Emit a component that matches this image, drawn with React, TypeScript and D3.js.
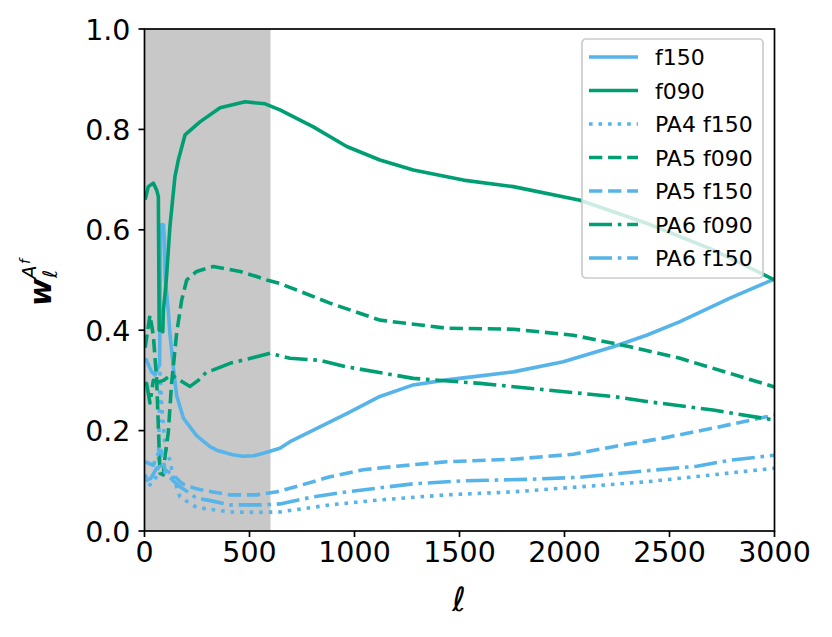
import * as d3 from 'd3'
import React from 'react'

const W = 832
const H = 637
const margin = { top: 29, right: 58, bottom: 106, left: 144.5 }
const innerW = 774.5 - margin.left
const innerH = 531 - margin.top

const blue = '#56B4E9'
const green = '#009E73'

// multipole values and weights
const f150Ell = [5, 34, 50, 66, 72, 77, 90, 95, 98, 113, 121, 137, 153, 185, 248, 312, 344, 420, 470, 520, 566, 645, 693, 804, 963, 1121, 1280, 1439, 1600, 1756, 1994, 2232, 2391, 2550, 2788, 3000]
const f150W = [0.344, 0.317, 0.311, 0.327, 0.33, 0.61, 0.61, 0.58, 0.507, 0.44, 0.394, 0.327, 0.27, 0.225, 0.19, 0.168, 0.161, 0.152, 0.149, 0.15, 0.155, 0.165, 0.178, 0.201, 0.234, 0.268, 0.291, 0.301, 0.309, 0.317, 0.337, 0.367, 0.39, 0.417, 0.464, 0.502]

const f090Ell = [3, 18, 42, 58, 66, 70, 80, 87, 90, 98, 105, 121, 145, 161, 193, 264, 360, 479, 574, 645, 804, 963, 1121, 1280, 1518, 1756, 2074, 2391, 2708, 3000]
const f090W = [0.66, 0.686, 0.693, 0.679, 0.666, 0.4, 0.4, 0.397, 0.44, 0.473, 0.507, 0.606, 0.706, 0.739, 0.789, 0.815, 0.843, 0.855, 0.851, 0.839, 0.805, 0.766, 0.739, 0.719, 0.699, 0.686, 0.659, 0.613, 0.56, 0.5]

const pa4f150Ell = [3, 26, 50, 66, 74, 82, 98, 121, 137, 169, 217, 248, 407, 534, 645, 883, 1121, 1439, 1756, 2074, 2391, 2708, 3000]
const pa4f150W = [0.112, 0.092, 0.1, 0.13, 0.314, 0.25, 0.168, 0.141, 0.108, 0.068, 0.055, 0.047, 0.038, 0.037, 0.038, 0.052, 0.062, 0.072, 0.078, 0.088, 0.098, 0.112, 0.125]

const pa5f090Ell = [3, 26, 42, 58, 74, 90, 98, 113, 129, 153, 177, 201, 248, 296, 328, 455, 534, 582, 645, 883, 1121, 1439, 1756, 2042, 2312, 2550, 2788, 3000]
const pa5f090W = [0.365, 0.43, 0.39, 0.3, 0.115, 0.112, 0.15, 0.195, 0.294, 0.394, 0.46, 0.5, 0.517, 0.523, 0.527, 0.517, 0.507, 0.5, 0.493, 0.454, 0.42, 0.404, 0.402, 0.39, 0.367, 0.344, 0.314, 0.287]

const pa5f150Ell = [3, 42, 66, 80, 98, 137, 169, 185, 248, 296, 407, 534, 630, 693, 883, 1042, 1201, 1439, 1756, 2042, 2232, 2470, 2708, 3000]
const pa5f150W = [0.138, 0.131, 0.155, 0.16, 0.122, 0.112, 0.098, 0.093, 0.084, 0.08, 0.072, 0.072, 0.078, 0.085, 0.108, 0.122, 0.129, 0.138, 0.143, 0.153, 0.168, 0.185, 0.205, 0.231]

const pa6f090Ell = [3, 10, 26, 42, 66, 90, 129, 169, 217, 256, 296, 328, 407, 534, 598, 693, 836, 963, 1280, 1598, 1915, 2232, 2391, 2708, 3000]
const pa6f090W = [0.29, 0.294, 0.255, 0.3, 0.297, 0.3, 0.311, 0.3, 0.288, 0.3, 0.317, 0.321, 0.334, 0.347, 0.354, 0.344, 0.34, 0.327, 0.304, 0.294, 0.281, 0.268, 0.258, 0.241, 0.221]

const pa6f150Ell = [3, 30, 58, 80, 100, 137, 169, 217, 248, 296, 407, 566, 645, 804, 963, 1121, 1280, 1518, 1836, 2074, 2391, 2630, 2788, 3000]
const pa6f150W = [0.1, 0.105, 0.125, 0.13, 0.115, 0.1, 0.088, 0.075, 0.065, 0.062, 0.052, 0.052, 0.054, 0.068, 0.078, 0.086, 0.094, 0.1, 0.103, 0.107, 0.12, 0.129, 0.141, 0.151]

const xTicks = [0, 500, 1000, 1500, 2000, 2500, 3000]
const yTicks = [0, 0.2, 0.4, 0.6, 0.8, 1.0]
const maskEnd = 600

const lw = 3.6
const dashes: any = {
    solid: null,
    dotted: `${1 * lw},${1.65 * lw}`,
    dashed: `${3.7 * lw},${1.6 * lw}`,
    dashdot: `${6.4 * lw},${1.6 * lw},${1 * lw},${1.6 * lw}`,
}

const series = [
    { label: 'f150', ell: f150Ell, w: f150W, color: blue, dash: 'solid' },
    { label: 'f090', ell: f090Ell, w: f090W, color: green, dash: 'solid' },
    { label: 'PA4 f150', ell: pa4f150Ell, w: pa4f150W, color: blue, dash: 'dotted' },
    { label: 'PA5 f090', ell: pa5f090Ell, w: pa5f090W, color: green, dash: 'dashed' },
    { label: 'PA5 f150', ell: pa5f150Ell, w: pa5f150W, color: blue, dash: 'dashed' },
    { label: 'PA6 f090', ell: pa6f090Ell, w: pa6f090W, color: green, dash: 'dashdot' },
    { label: 'PA6 f150', ell: pa6f150Ell, w: pa6f150W, color: blue, dash: 'dashdot' },
]

export default function App() {
    const x = d3.scaleLinear().domain([0, 3000]).range([0, innerW])
    const y = d3.scaleLinear().domain([0, 1]).range([innerH, 0])
    const line = d3.line<number[]>()
        .x((d) => x(d[0]))
        .y((d) => y(d[1]))

    const font = 'DejaVu Sans, sans-serif'
    const tickLen = 6
    const legX = 582 - margin.left
    const legY = 39 - margin.top
    const rowH = 33.5

    return (
        <svg width={W} height={H} style={{ position: 'absolute', left: 0, top: 0, background: '#fff' }}
            fontFamily={font}>
            <defs>
                <clipPath id="plotclip">
                    <rect x={0} y={0} width={innerW} height={innerH} />
                </clipPath>
            </defs>
            <g transform={`translate(${margin.left},${margin.top})`}>
                <rect x={x(0)} y={0} width={x(maskEnd) - x(0)} height={innerH} fill="#c8c8c8" />

                <g clipPath="url(#plotclip)">
                    {series.map((s) => (
                        <path key={s.label}
                            d={line(s.ell.map((e, i) => [e, s.w[i]])) as string}
                            fill="none" stroke={s.color} strokeWidth={lw}
                            strokeDasharray={dashes[s.dash] || undefined}
                            strokeLinejoin="round" strokeLinecap="butt" />
                    ))}
                </g>

                {/* spines */}
                <rect x={0} y={0} width={innerW} height={innerH} fill="none" stroke="#000" strokeWidth={1.7} />

                {/* x axis */}
                {xTicks.map((t) => (
                    <g key={t} transform={`translate(${x(t)},${innerH})`}>
                        <line y1={0} y2={tickLen} stroke="#000" strokeWidth={1.7} />
                        <text y={31} textAnchor="middle" fontSize={28.5}>{t}</text>
                    </g>
                ))}
                {/* y axis */}
                {yTicks.map((t) => (
                    <g key={t} transform={`translate(0,${y(t)})`}>
                        <line x1={0} x2={-tickLen} stroke="#000" strokeWidth={1.7} />
                        <text x={-14} y={10.5} textAnchor="end" fontSize={28.5}>{t.toFixed(1)}</text>
                    </g>
                ))}

                {/* legend */}
                <g transform={`translate(${legX},${legY})`}>
                    <rect x={0} y={0} width={181} height={239} rx={4} fill="#fff" fillOpacity={0.8}
                        stroke="#cccccc" strokeWidth={1.7} />
                    {series.map((s, i) => (
                        <g key={s.label} transform={`translate(0,${18 + i * rowH})`}>
                            <line x1={7} x2={56} y1={0} y2={0} stroke={s.color} strokeWidth={lw}
                                strokeDasharray={dashes[s.dash] || undefined} />
                            <text x={73} y={8} fontSize={22}>{s.label}</text>
                        </g>
                    ))}
                </g>
            </g>

            {/* axis labels */}
            <text x={459} y={611} textAnchor="middle" fontSize={33} fontStyle="italic">ℓ</text>
            <g transform="translate(51,306) rotate(-90)" fontStyle="italic">
                <text x={0} y={0} fontSize={30} fontWeight="bold">w</text>
                <text x={27} y={-15} fontSize={20}>A</text>
                <text x={42} y={-21} fontSize={14}>f</text>
                <text x={28} y={6} fontSize={20}>ℓ</text>
            </g>
        </svg>
    )
}
